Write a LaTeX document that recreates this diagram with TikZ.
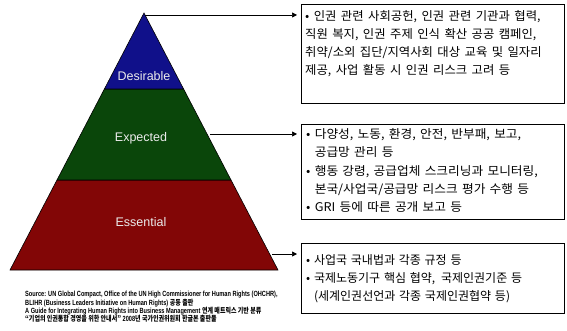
\documentclass[tikz,border=0pt]{standalone}
\usepackage{fontspec}
\setmainfont{Liberation Sans}
\newfontfamily\kr[WordSpace=1.6,FakeStretch=1.03]{Noto Sans CJK KR}
\newfontfamily\krwide[WordSpace=1.5,FakeStretch=1.06]{Noto Sans CJK KR}
\newfontfamily\krthree[WordSpace=1.4]{Noto Sans CJK KR}
\newfontfamily\srcfont[FakeStretch=0.75]{Liberation Sans}
\newfontfamily\srckr[FakeStretch=0.8]{Noto Sans CJK KR}
\usetikzlibrary{arrows.meta,calc}
\definecolor{desC}{RGB}{16,16,138}
\definecolor{expC}{RGB}{10,70,10}
\definecolor{essC}{RGB}{130,6,6}
\definecolor{lblC}{RGB}{235,235,235}
\tikzset{
  band/.style={draw=black,line width=0.6pt},
  plabel/.style={font=\fontsize{12.5}{14}\selectfont,text=lblC,inner sep=0pt},
  infobox/.style={draw=black,line width=0.8pt,anchor=north west,inner sep=0pt},
  boxtext/.style={font=\kr\fontsize{12}{18.2}\selectfont,align=left,anchor=north west,inner sep=0pt},
  widetext/.style={boxtext,font=\krwide\fontsize{12}{18.2}\selectfont},
  threetext/.style={boxtext,font=\krthree\fontsize{12}{18.4}\selectfont},
  conn/.style={draw=black,line width=0.7pt,-{Triangle[length=5pt,width=5pt]},shorten >=4pt},
  srctext/.style={font=\srcfont\bfseries\fontsize{7.5}{8.4}\selectfont,align=left,anchor=north west,inner sep=0pt}
}
\newcommand\hind{\hphantom{• }}
\begin{document}
\begin{tikzpicture}[x=1pt,y=-1pt]
\useasboundingbox (0,0) rectangle (567,331);
% pyramid corners
\coordinate (apex) at (144,13);
\coordinate (bl) at (10,270);
\coordinate (br) at (278,270);
\coordinate (dl) at (104.4,89);
\coordinate (dr) at (183.6,89);
\coordinate (el) at (57,180);
\coordinate (er) at (231,180);
\filldraw[band,fill=essC] (el) -- (er) -- (br) -- (bl) -- cycle;
\filldraw[band,fill=expC] (dl) -- (dr) -- (er) -- (el) -- cycle;
\filldraw[band,fill=desC] (apex) -- (dr) -- (dl) -- cycle;
\node[plabel] (ldes) at (144,76) {Desirable};
\node[plabel] (lexp) at (141,138) {Expected};
\node[plabel] (less) at (141,222) {Essential};
% boxes
\node[infobox,minimum width=263,minimum height=99] (box1) at (301,4) {};
\node[infobox,minimum width=263,minimum height=95] (box2) at (301,124) {};
\node[infobox,minimum width=263,minimum height=70] (box3) at (301,243) {};
\node[boxtext] (t1) at (305,10) {• 인권 관련 사회공헌, 인권 관련 기관과 협력,\\직원 복지, 인권 주제 인식 확산 공공 캠페인,\\취약/소외 집단/지역사회 대상 교육 및 일자리\\제공, 사업 활동 시 인권 리스크 고려 등};
\node[widetext] (t2) at (306,128.5) {• 다양성, 노동, 환경, 안전, 반부패, 보고,\\\hind 공급망 관리 등\\• 행동 강령, 공급업체 스크리닝과 모니터링,\\\hind 본국/사업국/공급망 리스크 평가 수행 등\\• GRI 등에 따른 공개 보고 등};
\node[threetext] (t3) at (306,254) {• 사업국 국내법과 각종 규정 등\\• 국제노동기구 핵심 협약,\,\ 국제인권기준 등\\\hind (세계인권선언과 각종 국제인권협약 등)};
% connectors
\coordinate (c1) at (145,15);
\coordinate (c2) at (210,134);
\coordinate (c3) at (272,254);
\draw[conn] (c1) -- (c1 -| box1.west);
\draw[conn] (c2) -- (c2 -| box2.west);
\draw[conn] (c3) -- (c3 -| box3.west);
% source
\node[srctext] (src) at (25,291) {Source: UN Global Compact, Office of the UN High Commissioner for Human Rights (OHCHR),\\BLIHR (Business Leaders Initiative on Human Rights) {\srckr 공동 출판}\\A Guide for Integrating Human Rights into Business Management {\srckr 연계 매트릭스 기반 분류}\\{\srckr “기업의 인권통합 경영을 위한 안내서”} 2008{\srckr 년 국가인권위원회 한글본 출판물}};
\end{tikzpicture}
\end{document}
